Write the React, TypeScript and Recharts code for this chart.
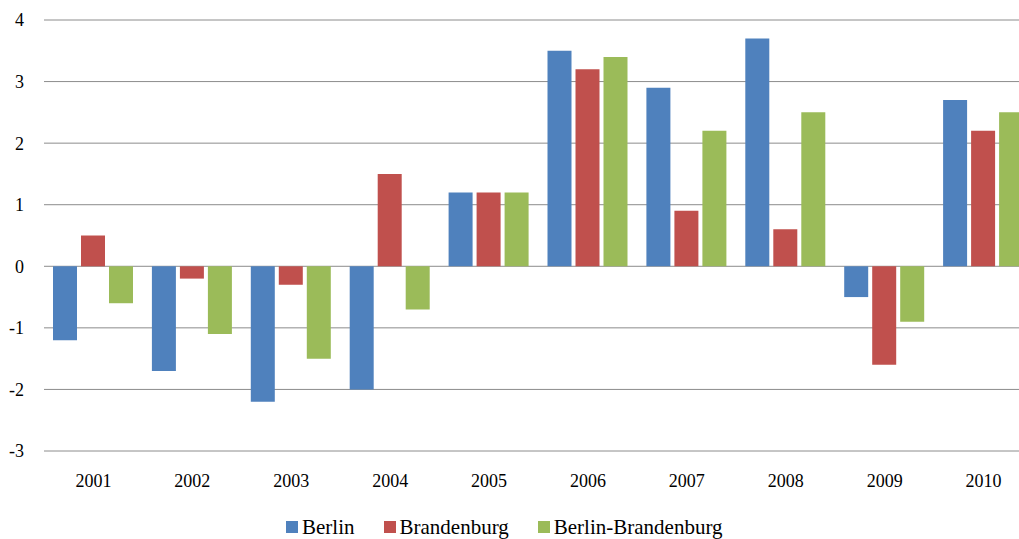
import { BarChart, Bar, XAxis, YAxis, CartesianGrid, Legend } from 'recharts';

const years = ['2001', '2002', '2003', '2004', '2005', '2006', '2007', '2008', '2009', '2010'];
const berlin = [-1.2, -1.7, -2.2, -2.0, 1.2, 3.5, 2.9, 3.7, -0.5, 2.7];
const brandenburg = [0.5, -0.2, -0.3, 1.5, 1.2, 3.2, 0.9, 0.6, -1.6, 2.2];
const berlinBrandenburg = [-0.6, -1.1, -1.5, -0.7, 1.2, 3.4, 2.2, 2.5, -0.9, 2.5];
const yTicks = [-3, -2, -1, 0, 1, 2, 3, 4];

const series = [
  { key: 'berlin', name: 'Berlin', color: '#4F81BD' },
  { key: 'brandenburg', name: 'Brandenburg', color: '#C0504D' },
  { key: 'bb', name: 'Berlin-Brandenburg', color: '#9BBB59' }
];

const data = years.map((year, i) => ({
  year,
  berlin: berlin[i],
  brandenburg: brandenburg[i],
  bb: berlinBrandenburg[i]
}));

const font = "'Liberation Serif', 'Times New Roman', serif";

const LegendContent = () => (
  <div style={{ display: 'flex', justifyContent: 'flex-start', fontFamily: font, fontSize: 21, lineHeight: '24px', color: '#000', paddingLeft: 286 }}>
    {series.map((s) => (
      <div key={s.key} style={{ display: 'flex', alignItems: 'center', marginRight: 29 }}>
        <span style={{ width: 12, height: 12, background: s.color, display: 'inline-block', marginRight: 4 }} />
        <span>{s.name}</span>
      </div>
    ))}
  </div>
);

export default function App() {
  return (
    <div style={{ position: 'absolute', left: 0, top: 0, width: 1019, height: 539, overflow: 'hidden', background: '#fff', fontFamily: font }}>
      <BarChart
        width={1040}
        height={539}
        data={data}
        margin={{ top: 20, right: 7, left: 0, bottom: 0 }}
        barCategoryGap={9}
        barGap={4}
      >
        <CartesianGrid vertical={false} stroke="#8c8c8c" strokeWidth={1} />
        <XAxis
          dataKey="year"
          axisLine={false}
          tickLine={false}
          tickMargin={17}
          height={64}
          tick={{ fill: '#000', fontSize: 18, fontFamily: font }}
        />
        <YAxis
          domain={[-3, 4]}
          ticks={yTicks}
          width={44}
          axisLine={false}
          tickLine={false}
          tickMargin={14}
          tick={{ fill: '#000', fontSize: 18, fontFamily: font }}
        />
        <Legend verticalAlign="bottom" align="left" height={24} wrapperStyle={{ left: 0, width: 1019 }} content={<LegendContent />} />
        {series.map((s) => (
          <Bar key={s.key} dataKey={s.key} name={s.name} fill={s.color} isAnimationActive={false} />
        ))}
      </BarChart>
    </div>
  );
}
